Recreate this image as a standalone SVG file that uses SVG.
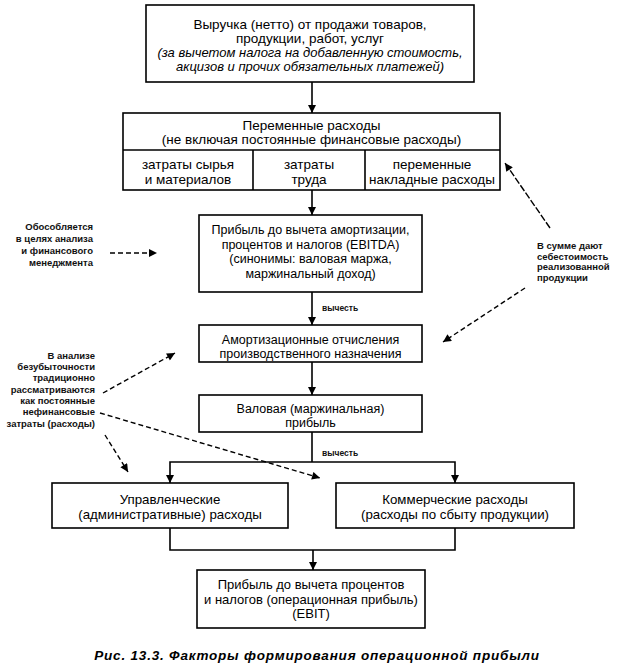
<svg xmlns="http://www.w3.org/2000/svg" width="623" height="668" viewBox="0 0 623 668">
<defs>
<marker id="ah" viewBox="0 0 10 10" refX="10" refY="5" markerWidth="9" markerHeight="8" markerUnits="userSpaceOnUse" orient="auto">
<path d="M0,0 L10,5 L0,10 z" fill="#000"/>
</marker>
</defs>
<style>
.box{fill:#fff;stroke:#000;stroke-width:1.6}
.t{font-family:"Liberation Sans",Arial,sans-serif;font-size:13px;text-anchor:middle;fill:#000}
.tl{font-size:13.5px}
.tm{font-size:12.5px}
.ti{font-style:italic;font-size:13px}
.a{font-family:"Liberation Sans",Arial,sans-serif;font-size:9.5px;font-weight:bold;fill:#111}
.ar{text-anchor:end}
.ln{stroke:#000;stroke-width:1.6;fill:none}
.dl{stroke:#000;stroke-width:1.4;stroke-dasharray:5,3;fill:none}
.cap{font-family:"Liberation Sans",Arial,sans-serif;font-size:13.5px;font-weight:bold;font-style:italic;letter-spacing:0.8px;text-anchor:middle}
</style>
<rect width="623" height="668" fill="#fff"/>

<g id="revenue">
<rect class="box" x="146" y="5" width="328" height="77"/>
<text class="t tl" x="310" y="29">Выручка (нетто) от продажи товаров,</text>
<text class="t tl" x="310" y="43">продукции, работ, услуг</text>
<text class="t ti" x="310" y="57">(за вычетом налога на добавленную стоимость,</text>
<text class="t ti" x="310" y="71">акцизов и прочих обязательных платежей)</text>
</g>

<g id="variable-costs">
<rect class="box" x="123" y="113" width="377" height="77"/>
<path class="ln" d="M123,150 H500 M253,150 V190 M365,150 V190"/>
<text class="t tl" x="311.5" y="129.5">Переменные расходы</text>
<text class="t tl" x="311.5" y="143.5">(не включая постоянные финансовые расходы)</text>
<text class="t tl" x="188" y="169">затраты сырья</text>
<text class="t tl" x="188" y="184">и материалов</text>
<text class="t tl" x="309" y="169">затраты</text>
<text class="t tl" x="309" y="184">труда</text>
<text class="t tl" x="432" y="169">переменные</text>
<text class="t tl" x="432" y="184">накладные расходы</text>
</g>

<g id="ebitda">
<rect class="box" x="199" y="215" width="223" height="77"/>
<text class="t tm" x="310.5" y="234">Прибыль до вычета амортизации,</text>
<text class="t tm" x="310.5" y="248.5">процентов и налогов (EBITDA)</text>
<text class="t tm" x="310.5" y="263">(синонимы: валовая маржа,</text>
<text class="t tm" x="310.5" y="277.5">маржинальный доход)</text>
</g>

<g id="depreciation">
<rect class="box" x="199" y="325" width="223" height="37"/>
<text class="t tm" x="310.5" y="343.5">Амортизационные отчисления</text>
<text class="t tm" x="310.5" y="357.5">производственного назначения</text>
</g>

<g id="gross-profit">
<rect class="box" x="199" y="395" width="223" height="37"/>
<text class="t tm" x="310.5" y="412.5">Валовая (маржинальная)</text>
<text class="t tm" x="310.5" y="427">прибыль</text>
</g>

<g id="admin-costs">
<rect class="box" x="52" y="483" width="236" height="45"/>
<text class="t" x="170" y="503.5" style="font-size:13.3px">Управленческие</text>
<text class="t" x="170" y="518.5" style="font-size:13.3px">(административные) расходы</text>
</g>

<g id="selling-costs">
<rect class="box" x="336" y="483" width="238" height="45"/>
<text class="t" x="455" y="503.5" style="font-size:13.3px">Коммерческие расходы</text>
<text class="t" x="455" y="518.5" style="font-size:13.3px">(расходы по сбыту продукции)</text>
</g>

<g id="ebit">
<rect class="box" x="197" y="570" width="228" height="58"/>
<text class="t" x="311" y="589">Прибыль до вычета процентов</text>
<text class="t" x="311" y="603.5">и налогов (операционная прибыль)</text>
<text class="t" x="311" y="618">(EBIT)</text>
</g>

<g id="connectors">
<path class="ln" d="M312,82 V113" marker-end="url(#ah)"/>
<path class="ln" d="M312,190 V215" marker-end="url(#ah)"/>
<path class="ln" d="M312,292 V325" marker-end="url(#ah)"/>
<path class="ln" d="M312,362 V395" marker-end="url(#ah)"/>
<path class="ln" d="M312,432 V462"/>
<path class="ln" d="M312,462 H170 V483" marker-end="url(#ah)"/>
<path class="ln" d="M312,462 H455 V483" marker-end="url(#ah)"/>
<path class="ln" d="M170,528 V550 H455 V528"/>
<path class="ln" d="M313,550 V570" marker-end="url(#ah)"/>
<path class="dl" d="M110,253 H157" marker-end="url(#ah)"/>
<path class="dl" d="M550,228 L505,163" style="stroke-dasharray:7,2" marker-end="url(#ah)"/>
<path class="dl" d="M525,288 L443,342" marker-end="url(#ah)"/>
<path class="dl" d="M103,393 L175,353" marker-end="url(#ah)"/>
<path class="dl" d="M100,413 L320,478" marker-end="url(#ah)"/>
<path class="dl" d="M105,435 L128,472" marker-end="url(#ah)"/>
<text class="a" x="322" y="311" style="font-size:8.5px">вычесть</text>
<text class="a" x="322" y="456" style="font-size:8.5px">вычесть</text>
</g>

<g id="note-analysis">
<text class="a ar" x="93" y="230">Обособляется</text>
<text class="a ar" x="93" y="242">в целях анализа</text>
<text class="a ar" x="93" y="254">и финансового</text>
<text class="a ar" x="93" y="266">менеджмента</text>
</g>

<g id="note-cost">
<text class="a" x="537" y="249">В сумме дают</text>
<text class="a" x="537" y="259.5">себестоимость</text>
<text class="a" x="537" y="270">реализованной</text>
<text class="a" x="537" y="280.5">продукции</text>
</g>

<g id="note-breakeven">
<text class="a ar" x="95" y="358.5">В анализе</text>
<text class="a ar" x="95" y="370">безубыточности</text>
<text class="a ar" x="95" y="381.3">традиционно</text>
<text class="a ar" x="95" y="392.7">рассматриваются</text>
<text class="a ar" x="95" y="404">как постоянные</text>
<text class="a ar" x="95" y="415.4">нефинансовые</text>
<text class="a ar" x="95" y="426.8">затраты (расходы)</text>
</g>

<text class="cap" x="317" y="660">Рис. 13.3. Факторы формирования операционной прибыли</text>
</svg>
